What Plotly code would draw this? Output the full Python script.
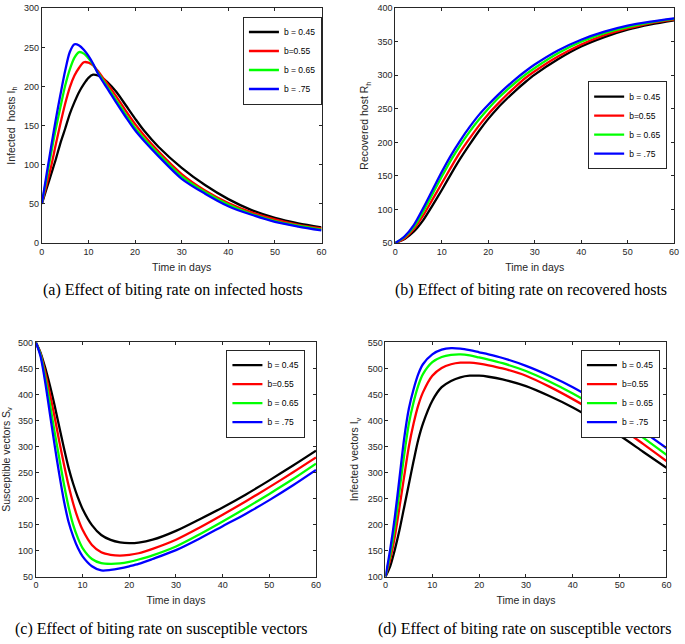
import plotly.graph_objects as go

W, H = 685, 644

labels = ["b = 0.45", "b=0.55", "b = 0.65", "b = .75"]
colors = ["#000000", "#ff0000", "#00ff00", "#0000ff"]

# ---------- (a) infected hosts ----------
t_a = [0, 1, 2, 3, 4, 5, 6, 7, 8, 9, 10, 11, 12, 13, 14, 16, 18, 20, 22, 25, 30, 35, 40, 45, 50, 55, 60]
ih_045 = [50, 69, 88, 107, 128, 146, 165, 180, 193, 203, 211, 215, 214, 211, 206, 193, 176, 159, 143, 123, 96, 74, 56, 42, 32, 25, 20]
ih_055 = [50, 74, 98, 126, 153, 178, 199, 214, 224, 231, 230.5, 227, 220, 212, 204, 187, 169, 152, 137, 117, 88, 67, 51, 39, 30, 23, 18.5]
ih_065 = [50, 82, 115, 146, 174, 201, 222, 237, 244, 242, 236, 228, 218, 209, 200, 182, 164, 147, 133, 114, 85, 65, 49, 37, 28, 22, 17]
ih_075 = [50, 87, 123, 158, 190, 220, 244, 254, 252.5, 247, 239, 229, 217, 207, 198, 179, 161, 144, 130, 111, 82, 63, 47, 36, 27, 21, 16]

# ---------- (b) recovered hosts ----------
t_b = [0, 2, 4, 6, 8, 10, 12, 14, 16, 18, 20, 22, 24, 26, 28, 30, 35, 40, 45, 50, 55, 60]
rh_045 = [50, 56, 67, 84, 106, 129, 153, 176, 197, 217, 235, 251, 265, 278, 290, 301, 324, 343, 357, 368, 376, 382]
rh_055 = [50, 57, 71, 91, 115, 139, 163, 186, 206, 225, 242, 257, 271, 284, 296, 306, 328, 346, 360, 370, 378, 383]
rh_065 = [50, 59, 74, 97, 123, 149, 174, 196, 216, 234, 250, 265, 278, 290, 301, 311, 333, 350, 363, 372, 379, 384]
rh_075 = [50, 60, 77, 102, 129, 156, 181, 203, 223, 241, 256, 270, 283, 295, 306, 316, 337, 353, 365, 374, 380, 385]

# ---------- (c) susceptible vectors ----------
t_c = [0, 1, 2, 3, 4, 5, 6, 7, 8, 9, 10, 12, 14, 16, 18, 20, 22, 25, 30, 35, 40, 45, 50, 55, 60]
sv_045 = [500, 480, 451, 417, 379, 338, 297, 259, 228, 202, 180, 149, 130, 120.6, 116, 114.5, 115.5, 121, 138, 160, 183, 208, 235, 263, 292]
sv_055 = [500, 478, 442, 401, 357, 310, 266, 225, 190, 162, 140, 111, 97, 92, 90.5, 92, 95, 103.5, 121, 144, 169, 195, 222, 250, 279]
sv_065 = [500, 476, 432, 382, 328, 278, 228, 184, 149, 124, 105, 84, 76, 74.6, 75.5, 78.5, 83, 91, 108, 131, 156, 182, 209, 237, 267]
sv_075 = [500, 473, 423, 363, 303, 247, 196, 155, 127, 105, 89, 70, 62, 63, 66, 70, 74.5, 84, 101, 123, 147, 171, 197, 225, 255]

# ---------- (d) infected vectors ----------
t_d = [0, 1, 2, 3, 4, 5, 6, 7, 8, 10, 12, 14, 16, 18, 20, 22, 25, 30, 35, 40, 45, 50, 55, 60]
iv_045 = [100, 120, 152, 190, 234, 278, 322, 363, 394, 438, 464, 476, 483, 486, 486, 484, 479, 466, 447, 425, 399, 371, 340, 309]
iv_055 = [100, 133, 177, 234, 293, 350, 394, 429, 454, 486, 501, 508, 511, 511, 509, 506, 500, 486, 465, 441, 415, 387, 355, 322]
iv_065 = [100, 142, 196, 265, 334, 394, 435, 467, 489, 512, 522, 526, 527, 525, 521, 517, 510, 495, 475, 452, 426, 398, 367, 334]
iv_075 = [100, 152, 215, 290, 366, 423, 460, 489, 508, 527, 536, 539, 538, 535, 531, 527, 520, 505, 486, 464, 438, 410, 379, 347]

x_ticks = [0, 10, 20, 30, 40, 50, 60]

panels = [
    dict(t=t_a, ys=[ih_045, ih_055, ih_065, ih_075], yr=[0, 300], yd=[0, 50, 100, 150, 200, 250, 300],
         ytitle="Infected\u00a0 hosts I<sub>h</sub>", xpx=(39.3, 322.3), ypx=(3.3, 241.7),
         leg=(322.7, 11.7), cap="(a) Effect of biting rate on infected hosts", cappx=(172, 290)),
    dict(t=t_b, ys=[rh_045, rh_055, rh_065, rh_075], yr=[50, 400], yd=[50, 100, 150, 200, 250, 300, 350, 400],
         ytitle="Recovered host R<sub>h</sub>", xpx=(397.0, 679.0), ypx=(3.3, 241.7),
         leg=(672.0, 77.3), cap="(b) Effect of biting rate on recovered hosts", cappx=(534, 290)),
    dict(t=t_c, ys=[sv_045, sv_055, sv_065, sv_075], yr=[50, 500], yd=[50, 100, 150, 200, 250, 300, 350, 400, 450, 500],
         ytitle="Susceptible vectors S<sub>v</sub>", xpx=(33.3, 316.7), ypx=(342.7, 580.7),
         leg=(306.0, 350.0), cap="(c) Effect of biting rate on susceptible vectors", cappx=(160, 634)),
    dict(t=t_d, ys=[iv_045, iv_055, iv_065, iv_075], yr=[100, 550], yd=[100, 150, 200, 250, 300, 350, 400, 450, 500, 550],
         ytitle="Infected vectors I<sub>v</sub>", xpx=(387.0, 671.3), ypx=(342.7, 580.7),
         leg=(664.7, 350.0), cap="(d) Effect of biting rate on susceptible vectors", cappx=(528, 634)),
]

fig = go.Figure()
axis_col = "#262626"
tick_font = dict(family="Liberation Sans, Arial, sans-serif", size=9, color=axis_col)
title_font = dict(family="Liberation Sans, Arial, sans-serif", size=10.5, color=axis_col)

layout = dict(
    width=W, height=H, margin=dict(l=0, r=0, t=0, b=0),
    paper_bgcolor="white", plot_bgcolor="white", showlegend=True,
    annotations=[],
)

for i, p in enumerate(panels):
    n = "" if i == 0 else str(i + 1)
    xa, ya = "x" + n, "y" + n
    lg = "legend" + n
    for k in range(4):
        fig.add_trace(go.Scatter(
            x=p["t"], y=p["ys"][k], mode="lines", name=labels[k],
            line=dict(color=colors[k], width=2.3, shape="spline", smoothing=0.8),
            xaxis=xa, yaxis=ya, legend=lg, hoverinfo="skip"))
    common = dict(showline=True, linecolor=axis_col, linewidth=1, mirror="allticks",
                  ticks="inside", ticklen=3, tickcolor=axis_col, tickwidth=1,
                  showgrid=False, zeroline=False, tickfont=tick_font)
    layout["xaxis" + n] = dict(
        common, domain=[p["xpx"][0] / W, p["xpx"][1] / W], range=[0, 60],
        tickmode="array", tickvals=x_ticks, anchor=ya,
        title=dict(text="Time in days", font=title_font, standoff=7))
    layout["yaxis" + n] = dict(
        common, domain=[1 - p["ypx"][1] / H, 1 - p["ypx"][0] / H], range=p["yr"],
        tickmode="array", tickvals=p["yd"], anchor=xa,
        title=dict(text=p["ytitle"], font=title_font, standoff=6))
    layout[lg] = dict(
        x=p["leg"][0] / W, y=1 - p["leg"][1] / H, xanchor="right", yanchor="top",
        xref="paper", yref="paper",
        bgcolor="white", bordercolor=axis_col, borderwidth=1,
        font=dict(family="Liberation Sans, Arial, sans-serif", size=8.5, color="#000000"),
        itemwidth=30, tracegroupgap=0)
    layout["annotations"].append(dict(
        text=p["cap"], x=p["cappx"][0] / W, y=1 - p["cappx"][1] / H,
        xref="paper", yref="paper", xanchor="center", yanchor="middle", showarrow=False,
        font=dict(family="Liberation Serif, Times New Roman, serif", size=16, color="#000000")))

fig.update_layout(**layout)
fig.write_html("out.html", config={"displayModeBar": False},
               post_script="document.body.style.margin='0';document.body.style.overflow='hidden';")
